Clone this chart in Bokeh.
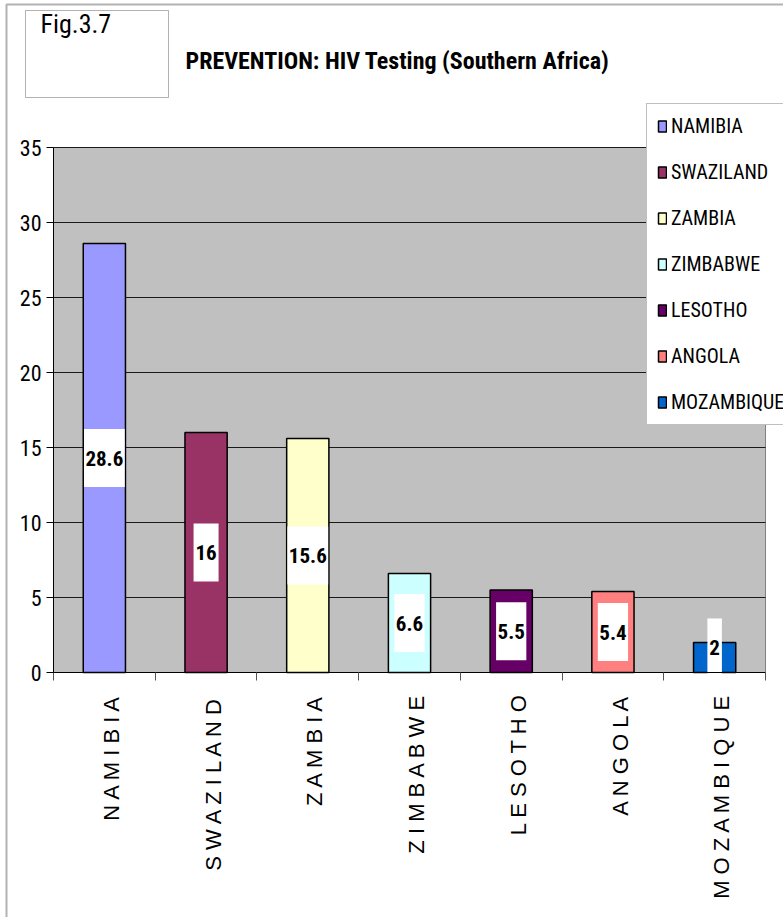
import math

from bokeh.embed import file_html
from bokeh.models import (BoxAnnotation, ColumnDataSource, FixedTicker, Label,
                          Legend, LegendItem, LinearAxis, Range1d)
from bokeh.plotting import figure
from bokeh.resources import INLINE
from bokeh.core.properties import value

# ---- data -----------------------------------------------------------------
countries = ["NAMIBIA", "SWAZILAND", "ZAMBIA", "ZIMBABWE", "LESOTHO", "ANGOLA", "MOZAMBIQUE"]
testing = [28.6, 16, 15.6, 6.6, 5.5, 5.4, 2]
bar_colors = ["#9999FF", "#993366", "#FFFFCC", "#CCFFFF", "#660066", "#FF8080", "#0066CC"]
y_ticks = [0, 5, 10, 15, 20, 25, 30, 35]

title_text = "PREVENTION: HIV Testing (Southern Africa)"
fig_tag = "Fig.3.7"

# ---- page geometry ----------------------------------------------------------
# The frame fills the whole page; the value axes are pinned inside it so the
# heading, legend and frame box can all be drawn as ordinary annotations.
W, H = 783, 917
LEFT, RIGHT, TOP, BOTTOM = 53, 765, 147, 672   # plot-area edges in page pixels
Y_MAX = y_ticks[-1]
n = len(countries)
slot_px = (RIGHT - LEFT) / n
unit_px = (BOTTOM - TOP) / Y_MAX

x_range = Range1d(-LEFT / slot_px, (W - LEFT) / slot_px)
y_range = Range1d(-(H - BOTTOM) / unit_px, Y_MAX + TOP / unit_px)

NARROW = "Roboto Condensed"
REGULAR = "Liberation Sans"


def sy(py):
    """page y pixel (from top) -> screen y (from bottom)"""
    return H - py


def text_px(s, size):
    """rough width of a bold condensed numeric string"""
    return sum((0.25 if ch == "." else 0.5) * size for ch in s)


slots = [i + 0.5 for i in range(n)]
label_text = [f"{v:g}" for v in testing]
label_y = [max(v / 2, 1.67) for v in testing]
label_w = [text_px(t, 21) + 4 for t in label_text]

src = ColumnDataSource(dict(x=slots, top=testing, color=bar_colors, name=countries,
                            label=label_text, label_y=label_y, label_w=label_w))

p = figure(width=W, height=H, x_range=x_range, y_range=y_range,
           x_axis_location=None, y_axis_location=None,
           output_backend="svg", toolbar_location=None, min_border=0,
           background_fill_color="white", border_fill_color="white",
           outline_line_color=None)
p.xgrid.visible = False
p.ygrid.visible = False

# ---- plot area: grey panel, grid lines ---------------------------------------
p.quad(left=0, right=n, bottom=0, top=Y_MAX, fill_color="#C0C0C0",
       line_color="#808080", line_width=1)
grid_y = y_ticks[1:]
p.segment(x0=[0] * len(grid_y), x1=[n] * len(grid_y), y0=grid_y, y1=grid_y,
          line_color="#1a1a1a", line_width=1)

# ---- bars -----------------------------------------------------------------
bars = p.vbar(x="x", top="top", bottom=0, width=0.415, source=src,
              fill_color="color", line_color="black", line_width=1.5)

# value labels on white boxes
p.rect(x="x", y="label_y", width="label_w", height=58, width_units="screen",
       height_units="screen", source=src, fill_color="white", line_color=None)
p.text(x="x", y="label_y", text="label", source=src, text_align="center",
       text_baseline="middle", text_font=value(NARROW),
       text_font_style="bold", text_font_size="21px", text_color="black")

# ---- y axis ---------------------------------------------------------------
ya = LinearAxis(fixed_location=0, bounds=(0, Y_MAX), ticker=FixedTicker(ticks=y_ticks))
ya.axis_line_color = "black"
ya.major_tick_in = 0
ya.major_tick_out = 7
ya.minor_tick_line_color = None
ya.major_label_standoff = 5
ya.major_label_text_font = NARROW
ya.major_label_text_font_size = "22px"
ya.major_label_text_color = "black"
p.add_layout(ya, "left")

# ---- x axis: tick marks at slot boundaries, spaced names at slot centres ----
label_ticks = [s + 0.07 for s in slots]
xa = LinearAxis(fixed_location=0, bounds=(0, n),
                ticker=FixedTicker(ticks=label_ticks, minor_ticks=list(range(n + 1))))
xa.major_label_overrides = {t: " ".join(c) for t, c in zip(label_ticks, countries)}
xa.major_tick_line_color = None
xa.major_tick_in = 0
xa.major_tick_out = 0
xa.minor_tick_in = 0
xa.minor_tick_out = 8
xa.minor_tick_line_color = "#555555"
xa.axis_line_color = "black"
xa.major_label_orientation = math.pi / 2
xa.major_label_standoff = 13
xa.major_label_text_font = REGULAR
xa.major_label_text_font_size = "22px"
xa.major_label_text_color = "black"
p.add_layout(xa, "below")

# ---- legend ---------------------------------------------------------------
items = [LegendItem(label=c, renderers=[bars], index=i) for i, c in enumerate(countries)]
legend = Legend(items=items, location=(646, sy(425)), padding=10, spacing=22,
                glyph_width=10, glyph_height=14, label_height=23, label_standoff=4,
                label_text_font=NARROW, label_text_font_size="20px",
                label_text_color="black",
                border_line_color="#808080", border_line_width=1,
                background_fill_color="white", background_fill_alpha=1, margin=0)
p.add_layout(legend)

# ---- heading block --------------------------------------------------------
p.add_layout(BoxAnnotation(left=6, right=W + 20, top=sy(4), bottom=sy(H + 20),
                           left_units="screen", right_units="screen",
                           top_units="screen", bottom_units="screen",
                           fill_alpha=0, line_color="black", line_width=2))
p.add_layout(BoxAnnotation(left=25, right=168, top=sy(10), bottom=sy(97),
                           left_units="screen", right_units="screen",
                           top_units="screen", bottom_units="screen",
                           fill_alpha=0, line_color="black", line_width=1))
p.add_layout(Label(x=40, y=sy(23), x_units="screen", y_units="screen",
                   text=fig_tag, text_font=NARROW, text_font_size="26px",
                   text_baseline="middle", text_align="left", text_color="black"))
p.add_layout(Label(x=185, y=sy(60), x_units="screen", y_units="screen",
                   text=title_text, text_font=NARROW, text_font_style="bold",
                   text_font_size="24px", text_baseline="middle", text_align="left",
                   text_color="black"))

open("out.html", "w").write(file_html(p, INLINE))
